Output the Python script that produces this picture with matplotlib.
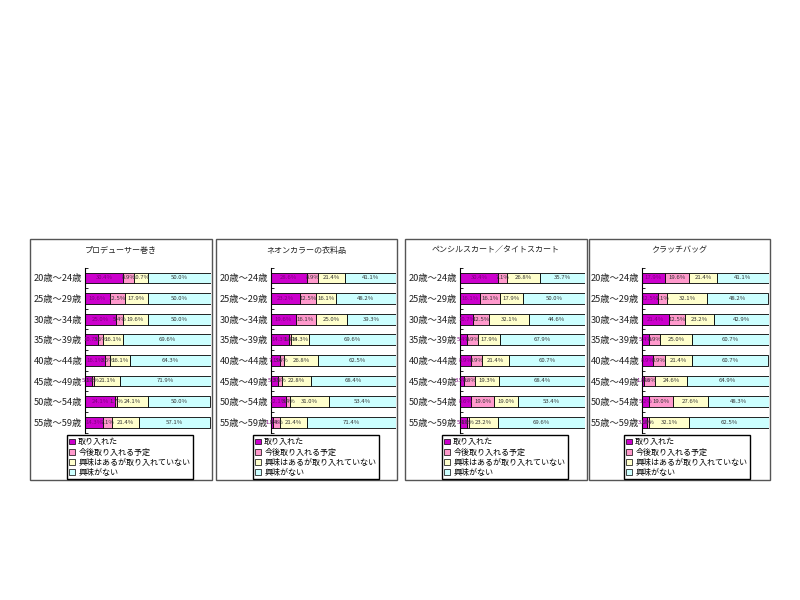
import matplotlib
matplotlib.use('Agg')
import matplotlib.pyplot as plt
from matplotlib.patches import Rectangle, Patch
import numpy as np

plt.rcParams['font.family'] = ['Noto Sans CJK JP', 'DejaVu Sans']

ages = ['20歳～24歳', '25歳～29歳', '30歳～34歳', '35歳～39歳',
        '40歳～44歳', '45歳～49歳', '50歳～54歳', '55歳～59歳']
series_names = ['取り入れた', '今後取り入れる予定',
                '興味はあるが取り入れていない', '興味がない']
titles = ['プロデューサー巻き', 'ネオンカラーの衣料品',
          'ペンシルスカート／タイトスカート', 'クラッチバッグ']

# プロデューサー巻き
p1_adopted = [30.4, 19.6, 25.0, 10.7, 16.1, 5.3, 24.1, 14.3]
p1_planned = [8.9, 12.5, 5.4, 3.6, 3.6, 1.8, 1.7, 7.1]
p1_interest = [10.7, 17.9, 19.6, 16.1, 16.1, 21.1, 24.1, 21.4]
p1_none = [50.0, 50.0, 50.0, 69.6, 64.3, 71.9, 50.0, 57.1]

# ネオンカラーの衣料品
p2_adopted = [28.6, 23.2, 19.6, 14.3, 7.1, 5.3, 12.1, 1.8]
p2_planned = [8.9, 12.5, 16.1, 1.8, 3.6, 3.5, 3.4, 5.4]
p2_interest = [21.4, 16.1, 25.0, 14.3, 26.8, 22.8, 31.0, 21.4]
p2_none = [41.1, 48.2, 39.3, 69.6, 62.5, 68.4, 53.4, 71.4]

# ペンシルスカート／タイトスカート
p3_adopted = [30.4, 16.1, 10.7, 5.4, 8.9, 3.5, 8.6, 5.4]
p3_planned = [7.1, 16.1, 12.5, 8.9, 8.9, 8.8, 19.0, 1.8]
p3_interest = [26.8, 17.9, 32.1, 17.9, 21.4, 19.3, 19.0, 23.2]
p3_none = [35.7, 50.0, 44.6, 67.9, 60.7, 68.4, 53.4, 69.6]

# クラッチバッグ
p4_adopted = [17.9, 12.5, 21.4, 5.4, 8.9, 1.8, 5.2, 3.6]
p4_planned = [19.6, 7.1, 12.5, 8.9, 8.9, 8.8, 19.0, 1.8]
p4_interest = [21.4, 32.1, 23.2, 25.0, 21.4, 24.6, 27.6, 32.1]
p4_none = [41.1, 48.2, 42.9, 60.7, 60.7, 64.9, 48.3, 62.5]

panels = [
    [p1_adopted, p1_planned, p1_interest, p1_none],
    [p2_adopted, p2_planned, p2_interest, p2_none],
    [p3_adopted, p3_planned, p3_interest, p3_none],
    [p4_adopted, p4_planned, p4_interest, p4_none],
]

colors = ['#CC00CC', '#FF99CC', '#FFFFCC', '#CCFFFF']
label_colors = ['#7a007a', '#333333', '#333333', '#333333']

W, H = 800, 600
fig = plt.figure(figsize=(8, 6), dpi=100, facecolor='white')

# pixel layout (left, right) of outer box and bar area
boxes = [(30, 212), (216, 397), (405, 587), (589, 770)]
bar_x = [(85, 210.5), (271, 396), (460, 585), (642, 768.5)]
box_top, box_bot = 239, 480
row_top, row_step = 278, 20.6


def fx(px):
    return px / W


def fy(py):
    return 1 - py / H


for k, (vals, (bl, br), (xl, xr)) in enumerate(zip(panels, boxes, bar_x)):
    # outer frame
    fig.patches.append(Rectangle((fx(bl), fy(box_bot)), fx(br - bl),
                                 (box_bot - box_top) / H, transform=fig.transFigure,
                                 fill=False, edgecolor='#555555', linewidth=1.0))
    fig.text(fx((bl + br) / 2), fy(250), titles[k], ha='center', va='center',
             fontsize=5.8, color='#222222')

    top = row_top - row_step / 2
    bot = top + row_step * len(ages)
    ax = fig.add_axes([fx(xl), fy(bot), fx(xr - xl), (bot - top) / H])
    y = np.arange(len(ages))
    left = np.zeros(len(ages))
    for s, v in enumerate(vals):
        v = np.array(v)
        ax.barh(y, v, left=left, height=0.52, color=colors[s],
                edgecolor='black', linewidth=0.6)
        for yi, (l, w) in enumerate(zip(left, v)):
            ax.text(l + w / 2, yi, f'{w:.1f}%', ha='center', va='center',
                    fontsize=4.3, color=label_colors[s], clip_on=False)
        left = left + v

    ax.set_xlim(0, 100)
    ax.set_ylim(len(ages) - 0.5, -0.5)
    ax.set_yticks(y)
    ax.set_yticklabels(ages, fontsize=6.7, color='#222222')
    ax.set_yticks(np.arange(len(ages) + 1) - 0.5, minor=True)
    ax.tick_params(axis='y', which='major', length=0, pad=2)
    ax.tick_params(axis='y', which='minor', length=2, direction='in', width=0.6)
    ax.set_xticks([])
    for side in ['top', 'right', 'bottom']:
        ax.spines[side].set_visible(False)
    ax.spines['left'].set_linewidth(0.8)
    ax.patch.set_alpha(0)

    handles = [Patch(facecolor=c, edgecolor='black', linewidth=0.5) for c in colors]
    fig.legend(handles, series_names, loc='upper left',
               bbox_to_anchor=(fx(xl - 18), fy(435)), fontsize=5.8,
               frameon=True, fancybox=False, edgecolor='black', framealpha=1,
               handlelength=0.7, handleheight=0.7, handletextpad=0.4,
               labelspacing=0.15, borderpad=0.3, borderaxespad=0)

fig.savefig('out.png', dpi=100, facecolor='white')
